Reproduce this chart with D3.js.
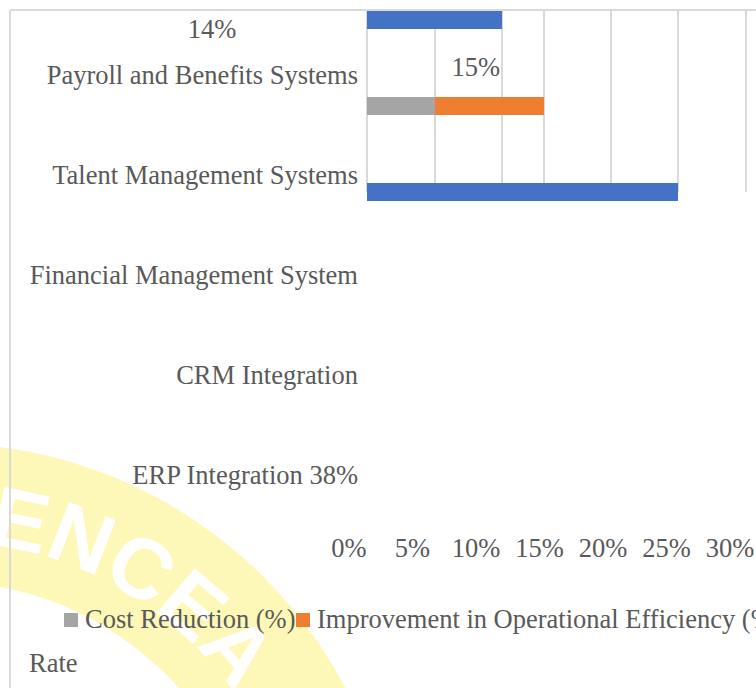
<!DOCTYPE html>
<html>
<head>
<meta charset="utf-8">
<script src="https://cdn.jsdelivr.net/npm/d3@7"></script>
<style>
  html, body { margin: 0; padding: 0; background: #fff; }
  svg { display: block; }
  text { font-family: "Liberation Serif", "Times New Roman", serif; fill: #595959; }
</style>
</head>
<body>
<div id="chart"></div>
<script>
// chart values
const categories = ["Payroll and Benefits Systems", "Talent Management Systems",
    "Financial Management System", "CRM Integration", "ERP Integration 38%"];
const barSlots = [0, 1, 2];
const costReduction = [null, 5, null];
const efficiency = [null, 10, null];
const adoptionRate = [10, null, 25];
const tickValues = [0, 5, 10, 15, 20, 25, 30];
const dataLabels = ["14%", "15%"];
const legendNames = ["Cost Reduction (%)", "Improvement in Operational Efficiency (%)", "Adoption Rate"];
const colors = {cost: "#a5a5a5", eff: "#ed7d31", rate: "#4472c4"};

const width = 756, height = 688;
const fontSize = "26.5px";

const svg = d3.select("#chart").append("svg")
    .attr("width", width)
    .attr("height", height);

svg.append("rect").attr("width", width).attr("height", height).attr("fill", "#fff");

// watermark seal behind everything
let wm = svg.append("g").attr("transform", "translate(-60,901)");
wm.append("path")
    .attr("d", d3.arc().innerRadius(320).outerRadius(458).startAngle(0).endAngle(2 * Math.PI)())
    .attr("fill", "#fcf5a6")
    .attr("opacity", 0.8);

let r = 360, a0 = 0.13;
wm.append("path")
    .attr("id", "sealPath")
    .attr("fill", "none")
    .attr("d", `M ${r * Math.sin(a0)} ${-r * Math.cos(a0)} A ${r} ${r} 0 0 1 ${r * Math.sin(a0 + 1.5)} ${-r * Math.cos(a0 + 1.5)}`);
wm.append("text")
    .style("font-family", "'Liberation Sans', Arial, sans-serif")
    .style("font-weight", "bold")
    .style("font-size", "85px")
    .style("fill", "#fff")
    .append("textPath")
    .attr("href", "#sealPath")
    .text("ENCEA");

// chart frame (only top and left edges show)
svg.append("line").attr("x1", 10).attr("x2", width).attr("y1", 10).attr("y2", 10)
    .attr("stroke", "#d9d9d9").attr("stroke-width", 2);
svg.append("line").attr("x1", 10).attr("x2", 10).attr("y1", 10).attr("y2", height)
    .attr("stroke", "#d9d9d9").attr("stroke-width", 2);

// the bar scale in the source is broken after 10%, so it is piecewise
const x = d3.scaleLinear()
    .domain(tickValues)
    .range([367, 435, 502, 544, 611, 678, 746]);

// the printed axis labels sit on their own even spacing
const xLabels = d3.scaleLinear().domain([0, 30]).range([349, 730]);

const yBar = d3.scalePoint().domain(barSlots).range([20, 192]);
const yLabel = d3.scalePoint().domain(categories).range([75, 475]);
const barH = 18;

// gridlines
svg.append("g")
    .selectAll("line")
    .data(tickValues)
    .enter()
    .append("line")
    .attr("x1", d => x(d)).attr("x2", d => x(d))
    .attr("y1", 11).attr("y2", yBar(2))
    .attr("stroke", "#d9d9d9")
    .attr("stroke-width", 2);

// bars
let bars = [];
barSlots.forEach(i => {
    if (adoptionRate[i] != null) bars.push({slot: i, x0: 0, v: adoptionRate[i], c: colors.rate});
    if (costReduction[i] != null) bars.push({slot: i, x0: 0, v: costReduction[i], c: colors.cost});
    if (efficiency[i] != null) bars.push({slot: i, x0: costReduction[i] || 0, v: efficiency[i], c: colors.eff});
});

svg.append("g")
    .selectAll("rect")
    .data(bars)
    .enter()
    .append("rect")
    .attr("x", d => x(d.x0))
    .attr("y", d => yBar(d.slot) - barH / 2)
    .attr("width", d => x(d.x0 + d.v) - x(d.x0))
    .attr("height", barH)
    .attr("fill", d => d.c);

// category labels
svg.append("g")
    .selectAll("text")
    .data(categories)
    .enter()
    .append("text")
    .attr("x", 358)
    .attr("y", d => yLabel(d))
    .attr("dy", "0.33em")
    .attr("text-anchor", "end")
    .style("font-size", fontSize)
    .text(d => d);

// stray data labels
svg.append("text")
    .attr("x", 212).attr("y", 38)
    .attr("text-anchor", "middle")
    .style("font-size", fontSize)
    .text(dataLabels[0]);
svg.append("text")
    .attr("x", x(10) - 2).attr("y", 76)
    .attr("text-anchor", "end")
    .style("font-size", fontSize)
    .text(dataLabels[1]);

// axis labels
svg.append("g")
    .selectAll("text")
    .data(tickValues)
    .enter()
    .append("text")
    .attr("x", d => xLabels(d))
    .attr("y", 557)
    .attr("text-anchor", "middle")
    .style("font-size", fontSize)
    .text(d => d + "%");

// legend
let legend = svg.append("g");
let legendItems = [
    {name: legendNames[0], c: colors.cost, x: 64},
    {name: legendNames[1], c: colors.eff, x: 296}
];
legendItems.forEach(d => {
    legend.append("rect").attr("x", d.x).attr("y", 613).attr("width", 14).attr("height", 14).attr("fill", d.c);
    legend.append("text").attr("x", d.x + 21).attr("y", 628).style("font-size", fontSize).text(d.name);
});
// the last entry wraps, only its tail is in view
legend.append("text").attr("x", 29).attr("y", 672).style("font-size", fontSize)
    .text(legendNames[2].split(" ")[1]);
</script>
</body>
</html>
